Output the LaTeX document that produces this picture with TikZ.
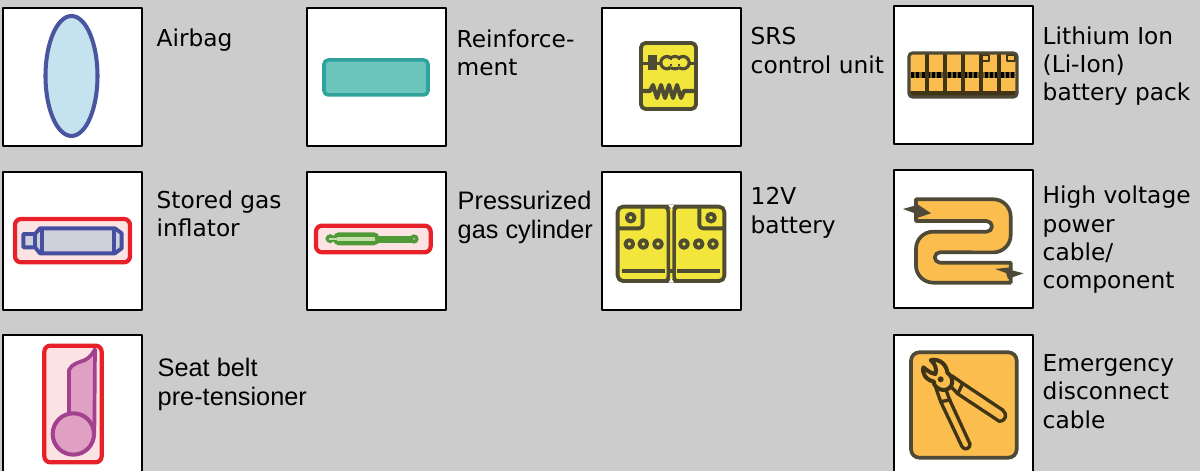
\documentclass[tikz,border=0pt]{standalone}
\usepackage{fontspec}
\setmainfont{DejaVu Sans}
\newfontfamily\arialfont{Liberation Sans}
\usepackage{xcolor}
\definecolor{pagegray}{HTML}{CCCCCC}
\definecolor{bagfill}{HTML}{C5E3EE}
\definecolor{bagline}{HTML}{4A55A0}
\definecolor{reinffill}{HTML}{6CC5BC}
\definecolor{reinfline}{HTML}{2FA39B}
\definecolor{unityellow}{HTML}{F2E63C}
\definecolor{darkline}{HTML}{4E4C32}
\definecolor{packorange}{HTML}{FBBD4D}
\definecolor{orangeline}{HTML}{4F4A38}
\definecolor{cutterline}{HTML}{3F3416}
\definecolor{alertred}{HTML}{E8202A}
\definecolor{alertpink}{HTML}{FBE3E3}
\definecolor{gasgray}{HTML}{CFD0DC}
\definecolor{gasblue}{HTML}{464EA0}
\definecolor{cylgreen}{HTML}{4F9A36}
\definecolor{cyllight}{HTML}{C4E0A8}
\definecolor{beltfill}{HTML}{DFA0C4}
\definecolor{beltline}{HTML}{A3408F}
\tikzset{
  iconframe/.style={draw=black, fill=white, line width=0.75pt},
  iconlabel/.style={anchor=north west, inner sep=0pt, align=left,
    font=\fontsize{6.62}{8.05}\selectfont},
  arriallabel/.style={anchor=north west, inner sep=0pt, align=left,
    font=\arialfont\fontsize{7.2}{8.4}\selectfont},
  alertbox/.style={draw=alertred, fill=alertpink, line width=1.2pt, rounded corners=1.7pt},
  darkstroke/.style={draw=darkline, line width=1.1pt},
  orangestroke/.style={draw=orangeline, line width=1.05pt},
  cutterstroke/.style={draw=cutterline, line width=0.95pt, line cap=round},
}

\begin{document}
\begin{tikzpicture}[x=0.01cm, y=-0.01cm, line join=round]
  % Page background
  \fill[pagegray] (0,0) rectangle (1200,471);
  \clip (0,0) rectangle (1200,471);

  % White frames
  \foreach \xa/\ya in {3/8, 307/8, 602/8, 894/6, 3/172, 307/172, 602/172, 894/170, 3/335, 894/335}
    \draw[iconframe] (\xa,\ya) rectangle ++(139,138);

  % Airbag
  \draw[draw=bagline, fill=bagfill, line width=1.15pt] (71.5,76) ellipse (26 and 60);

  % Reinforcement
  \draw[draw=reinfline, fill=reinffill, line width=1pt, rounded corners=1.2pt] (324,60) rectangle (428,95);

  % SRS control unit
  \draw[darkstroke, fill=unityellow, rounded corners=1.3pt] (641,43) rectangle (696,109);
  \draw[darkstroke] (643,63.5) -- (694,63.5);
  \fill[darkline] (648,55) rectangle (657,70);
  \foreach \xa in {667,675,683}
    \draw[darkstroke, line width=0.9pt, fill=unityellow] (\xa,62.7) circle (6.2);
  \fill[unityellow] (675,62.7) ellipse (11 and 4.2);
  \foreach \xa in {671,679}
    \draw[darkline, line width=0.5pt, densely dotted] (\xa,58.5) -- (\xa,67);
  \draw[darkstroke, line width=1.15pt] (643,91) -- (650,91) -- (653,85) -- (657,98) -- (661,85) -- (665,98)
    -- (669,85) -- (673,98) -- (677,85) -- (681,98) -- (684,91) -- (694,91);

  % Lithium ion pack
  \fill[packorange] (909,53) rectangle (1017,97);
  \fill[cutterline] (909,91) rectangle (1017,97);
  \draw[cutterline!70!packorange, line width=1.5pt] (911,75) -- (1015,75);
  \draw[black, line width=1.5pt, dash pattern=on 0.9pt off 0.6pt] (911,75) -- (1015,75);
  \foreach \xa in {927,945,963,981,999}
    \draw[cutterline, line width=0.95pt] (\xa,53) -- (\xa,97);
  \foreach \xa in {981,1007}
    \draw[draw=cutterline, line width=0.7pt] (\xa,55) -- (\xa+8,55) -- (\xa+8,61) -- (\xa,61) -- cycle;
  \draw[orangestroke, line width=0.9pt, rounded corners=1pt] (909,53) rectangle (1017,97);

  % High voltage cable
  \draw[orangestroke, fill=packorange]
    (916,199.3) -- (993.3,199.3) arc (-90:0:17.4) -- (1010.7,235) arc (0:90:17.4)
    -- (940,252.3) arc (-90:-270:5.2) -- (1010.7,262.7) -- (1010.7,282.7) -- (933.3,282.7)
    arc (90:180:17.4) -- (916,248.8) arc (180:270:17.1) -- (986.7,231.7) arc (90:-90:5.3)
    -- (916,221) -- cycle;
  \fill[orangeline] (903,209) -- (917,205) -- (917,204) -- (931,213.3) -- (917,218) -- (918,214.5) -- cycle;
  \fill[orangeline] (1023.5,273.3) -- (1009,269.5) -- (1009,267.5) -- (995,269) -- (1006,273) -- (1008,279) -- cycle;

  % Emergency disconnect cutters
  \draw[orangestroke, fill=packorange, rounded corners=2.4pt] (911,352.3) rectangle (1016.7,457.7);
  \begin{scope}[shift={(890,330)}, scale=1/3]
    \draw[cutterstroke]
      (185,137) -- (218,160) -- (338,240) .. controls (352,252) and (350,272) .. (328,274)
      -- (204,192) -- (185,172);
    \draw[cutterstroke]
      (138,175) -- (152,215) -- (216,350) .. controls (224,364) and (242,354) .. (240,342)
      -- (180,212) -- (168,180);
    \draw[cutterstroke] (218,160) -- (204,190);
    \draw[cutterstroke] (152,215) -- (180,210);
    \draw[cutterstroke, line width=1.15pt]
      (122,90) .. controls (150,85) and (170,105) .. (172,128)
      .. controls (195,145) and (190,175) .. (165,180)
      .. controls (140,180) and (130,165) .. (132,155)
      .. controls (105,150) and (95,125) .. (100,112)
      .. controls (108,118) and (120,130) .. (136,132)
      .. controls (142,120) and (135,100) .. cycle;
    \fill[cutterline] (152,148) circle (9);
  \end{scope}

  % 12V battery
  \begin{scope}[shift={(600,170)}, scale=1/3]
    \draw[darkstroke, fill=unityellow, rounded corners=1.5pt] (53,110) rectangle (373,333);
    \fill[white] (205,105) -- (222,105) -- (214,118) -- cycle;
    \fill[white] (205,338) -- (222,338) -- (214,325) -- cycle;
    \draw[darkstroke, line width=1pt] (197,110) .. controls (204,118) .. (205,130) -- (205,315) .. controls (204,327) .. (197,335);
    \draw[darkstroke, line width=1pt] (230,110) .. controls (223,118) .. (222,130) -- (222,315) .. controls (223,327) .. (230,335);
    \draw[darkstroke, rounded corners=1pt] (128,115) -- (128,175) -- (57,175);
    \draw[darkstroke, rounded corners=1pt] (298,115) -- (298,175) -- (370,175);
    \foreach \xa in {92,333}
      \draw[darkstroke, fill=unityellow] (\xa,143) circle (11.5);
    \foreach \xa in {88,130,174,252,296,339}
      \draw[darkstroke, fill=unityellow] (\xa,222) circle (11.5);
    \draw[darkstroke] (66,304) -- (195,304);
    \draw[darkstroke] (232,304) -- (360,304);
    \draw[darkstroke] (207,304) -- (220,304);
  \end{scope}

  % Stored gas inflator
  \begin{scope}[shift={(0,170)}, scale=1/3]
    \draw[alertbox] (45,147) rectangle (390,277);
    \draw[draw=gasblue, fill=gasgray, line width=1.1pt]
      (70,192) -- (105,192) -- (120,175) -- (345,175) -- (365,190) -- (365,235)
      -- (345,250) -- (120,250) -- (105,232) -- (70,232) -- cycle;
    \draw[draw=gasblue, line width=1.1pt] (105,192) -- (105,232);
    \draw[draw=gasblue, line width=1.1pt] (125,178) -- (125,247);
    \draw[draw=gasblue, line width=1.1pt] (343,178) -- (343,247);
  \end{scope}

  % Pressurized gas cylinder
  \begin{scope}[shift={(300,170)}, scale=1/3]
    \draw[alertbox] (48,167) rectangle (392,247);
    \fill[cylgreen, rounded corners=1.5pt] (100,187) rectangle (238,226);
    \fill[cylgreen, rounded corners=1.5pt] (76,192) rectangle (105,220);
    \fill[cylgreen] (235,197) rectangle (335,218);
    \fill[cylgreen] (342,207) circle (14);
    \fill[cyllight] (342,207) circle (3);
    \fill[cyllight] (110,200) rectangle (226,214);
    \fill[cyllight] (88,205) rectangle (110,209);
  \end{scope}

  % Seat belt pre-tensioner
  \begin{scope}[shift={(0,330)}, scale=1/3]
    \draw[alertbox] (133,47) rectangle (305,397);
    \draw[draw=beltline, fill=beltfill, line width=1.05pt]
      (207,250) -- (207,120) .. controls (215,100) and (240,97) .. (255,90)
      .. controls (270,83) and (278,70) .. (285,58) -- (283,312);
    \draw[draw=beltline, fill=beltfill, line width=1.15pt] (220,312) circle (62);
  \end{scope}

  % Labels
  \node[iconlabel] (airbag) at (156,28) {Airbag};
  \node[iconlabel] (reinforcement) at (456,29) {Reinforce-\\ment};
  \node[iconlabel] (srsunit) at (750,27) {SRS\\control unit};
  \node[iconlabel] (lithium) at (1042,26) {Lithium Ion\\(Li-Ion)\\battery pack};
  \node[iconlabel] (inflator) at (156,190) {Stored gas\\inflator};
  \node[arriallabel] (cylinder) at (457,190) {Pressurized\\gas cylinder};
  \node[iconlabel] (battery) at (750,187) {12V\\battery};
  \node[iconlabel] (hvcable) at (1042,185.5) {High voltage\\power\\cable/\\component};
  \node[arriallabel] (tensioner) at (157,357) {Seat belt\\pre-tensioner};
  \node[iconlabel] (disconnect) at (1042,354) {Emergency\\disconnect\\cable};
\end{tikzpicture}
\end{document}
